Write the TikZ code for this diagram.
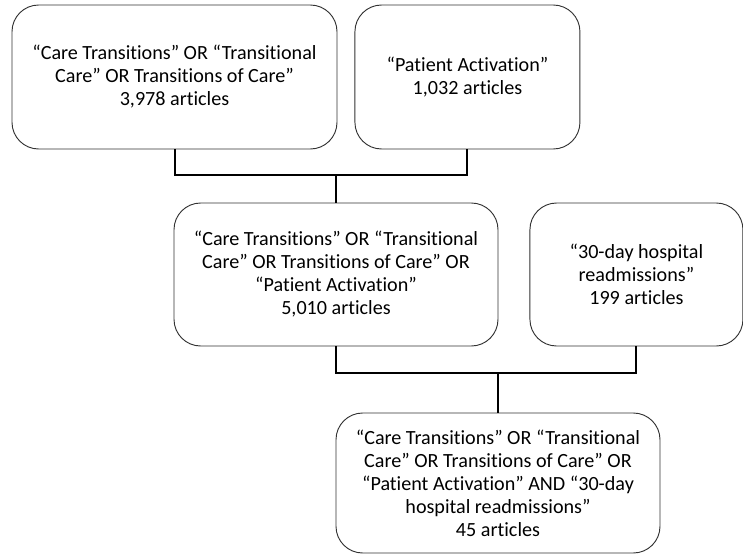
\documentclass[tikz,border=0pt]{standalone}
\usepackage{fontspec}
\setmainfont{Carlito}[Ligatures=NoCommon]
\usetikzlibrary{positioning}
\tikzset{
  qbox/.style = {draw=black!80, line width=0.7pt, rounded corners=20pt, align=center,
                 font=\fontsize{15.1}{17.25}\selectfont, inner sep=2pt},
  link/.style = {line width=1.5pt, black},
}

\begin{document}
\begin{tikzpicture}[x=0.75pt, y=-0.75pt]
  \useasboundingbox (0,0) rectangle (743,554);
  % first row of searches
  \node[qbox, minimum width=243.75pt, minimum height=108pt] (care) at (174.5,77)
    {“Care Transitions” OR “Transitional\\Care” OR Transitions of Care”\\3,978 articles};
  \node[qbox, minimum width=168.75pt, minimum height=108pt, right=12.75pt of care] (activ)
    {“Patient Activation”\\1,032 articles};
  % combined search and readmissions
  \node[qbox, minimum width=243pt, minimum height=107.25pt] (union) at (336,274.5)
    {“Care Transitions” OR “Transitional\\Care” OR Transitions of Care” OR\\“Patient Activation”\\5,010 articles};
  \node[qbox, minimum width=159.75pt, minimum height=107.25pt, right=23.25pt of union] (readm)
    {“30-day hospital\\readmissions”\\199 articles};
  % final result
  \node[qbox, minimum width=243pt, minimum height=105pt] (final) at (498,483)
    {“Care Transitions” OR “Transitional\\Care” OR Transitions of Care” OR\\“Patient Activation” AND “30-day\\hospital readmissions”\\45 articles};
  \coordinate (j1) at (336,175);
  \coordinate (j2) at (498,373);
  \draw[link] (care.south) |- (j1) -| (activ.south);
  \draw[link] (j1) -- (union.north);
  \draw[link] (union.south) |- (j2) -| (readm.south);
  \draw[link] (j2) -- (final.north);
\end{tikzpicture}
\end{document}
